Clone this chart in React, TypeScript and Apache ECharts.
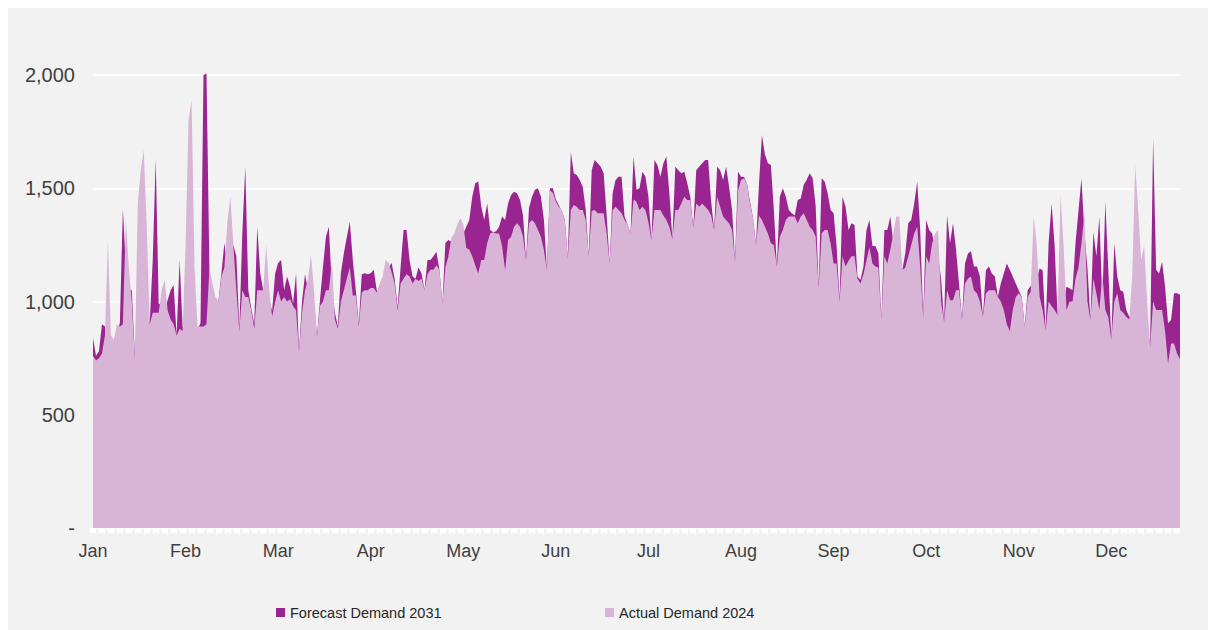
import { useEffect, useRef } from "react";
import * as echarts from "echarts";

const monthNames = ["Jan", "Feb", "Mar", "Apr", "May", "Jun", "Jul", "Aug", "Sep", "Oct", "Nov", "Dec"];
const daysPerMonth = [31, 29, 31, 30, 31, 30, 31, 31, 30, 31, 30, 31];

const forecast2031 = [
  840, 760, 780, 900, 890, 820, 830, 830, 860, 905,
  1410, 1150, 1050, 1050, 760, 1000, 1100, 1150, 1000, 910,
  1180, 1629, 990, 985, 950, 1007, 1050, 1073, 850, 1183,
  890, 860, 900, 950, 920, 880, 904, 2000, 2007, 1130,
  1000, 980, 1000, 1125, 1258, 1150, 1200, 1250, 1200, 880,
  1300, 1595, 1050, 970, 900, 1330, 1125, 1050, 1050, 1000,
  960, 1125, 1170, 1183, 1050, 1110, 1065, 990, 1125, 780,
  1000, 1120, 1050, 1100, 1000, 845, 1005, 1150, 1285, 1330,
  1050, 950, 890, 1125, 1213, 1285, 1352, 1183, 1050, 900,
  1120, 1125, 1120, 1125, 1140, 1050, 1040, 1090, 1150, 1150,
  1170, 1100, 975, 1150, 1316, 1316, 1183, 1110, 1100, 1150,
  1125, 1050, 1183, 1183, 1200, 1220, 1140, 990, 1258, 1271,
  1264, 1260, 1280, 1300, 1300, 1330, 1360, 1463, 1522, 1530,
  1420, 1360, 1433, 1316, 1306, 1310, 1330, 1375, 1360, 1433,
  1470, 1485, 1478, 1448, 1380, 1183, 1413, 1463, 1493, 1500,
  1463, 1360, 1138, 1500, 1500, 1450, 1425, 1400, 1360, 1190,
  1660, 1566, 1558, 1536, 1507, 1404, 1200, 1580, 1625, 1610,
  1595, 1566, 1380, 1168, 1478, 1536, 1551, 1551, 1375, 1340,
  1300, 1640, 1493, 1500, 1573, 1551, 1463, 1270, 1625, 1603,
  1551, 1610, 1640, 1478, 1275, 1595, 1580, 1566, 1573, 1522,
  1463, 1324, 1580, 1595, 1610, 1625, 1625, 1440, 1316, 1595,
  1580, 1536, 1595, 1507, 1404, 1176, 1573, 1551, 1550, 1522,
  1440, 1370, 1250, 1515, 1735, 1650, 1610, 1603, 1404, 1154,
  1463, 1500, 1463, 1404, 1390, 1380, 1448, 1455, 1515, 1537,
  1566, 1544, 1420, 1065, 1544, 1530, 1478, 1404, 1390, 1245,
  1010, 1463, 1418, 1316, 1345, 1338, 1110, 1095, 1154, 1316,
  1360, 1245, 1245, 1212, 918, 1316, 1316, 1375, 1257, 1200,
  1150, 1138, 1212, 1345, 1360, 1433, 1530, 1316, 933, 1360,
  1316, 1300, 1230, 1200, 1100, 910, 1380, 1257, 1345, 1227,
  1080, 918, 1168, 1212, 1222, 1154, 1154, 1110, 933, 1138,
  1154, 1124, 1110, 1020, 1080, 1124, 1168, 1140, 1110, 1080,
  1050, 1020, 889, 1050, 1070, 1050, 1100, 1146, 1138, 874,
  1257, 1433, 1250, 940, 1150, 1000, 1065, 1058, 1050, 1257,
  1400, 1544, 1300, 1150, 918, 1306, 1200, 1375, 1000, 1440,
  1138, 830, 1257, 1110, 1050, 1043, 962, 933, 950, 1050,
  1100, 1000, 1050, 900, 810, 1720, 1140, 1124, 1176, 1065,
  904, 918, 1036, 1036, 1030,
];

const actual2024 = [
  760, 740, 750, 770, 850, 1270, 850, 830, 900, 890,
  900, 1360, 1150, 1000, 750, 1436, 1580, 1669, 1330, 900,
  950, 950, 950, 1050, 1095, 960, 920, 900, 850, 880,
  870, 1250, 1800, 1890, 1150, 890, 890, 890, 900, 1150,
  1080, 1020, 1000, 1110, 1150, 1350, 1463, 1250, 1050, 870,
  1050, 1020, 1020, 960, 880, 1050, 1050, 1050, 1250, 1050,
  935, 1000, 1050, 1000, 1020, 1000, 1010, 980, 960, 780,
  950, 1050, 1100, 1205, 1050, 845, 980, 1000, 1050, 1050,
  1180, 920, 880, 1000, 1050, 1100, 1150, 1027, 1027, 890,
  1040, 1050, 1050, 1060, 1060, 1040, 1080, 1110, 1183, 1170,
  1130, 1080, 962, 1080, 1100, 1120, 1110, 1080, 1100, 1090,
  1100, 1050, 1120, 1140, 1140, 1160, 1140, 990, 1150, 1200,
  1280, 1300, 1340, 1368, 1340, 1236, 1230, 1200, 1160, 1124,
  1183, 1183, 1257, 1300, 1306, 1300, 1300, 1243, 1138, 1272,
  1286, 1330, 1345, 1330, 1286, 1183, 1345, 1360, 1345, 1316,
  1285, 1227, 1138, 1490, 1480, 1440, 1418, 1404, 1360, 1190,
  1404, 1426, 1418, 1404, 1404, 1360, 1200, 1400, 1404, 1390,
  1390, 1390, 1300, 1168, 1404, 1418, 1404, 1390, 1360, 1340,
  1300, 1450, 1440, 1404, 1418, 1404, 1350, 1270, 1404, 1404,
  1404, 1380, 1360, 1330, 1275, 1404, 1404, 1433, 1463, 1448,
  1448, 1324, 1433, 1418, 1433, 1418, 1404, 1380, 1316, 1463,
  1418, 1375, 1360, 1345, 1316, 1176, 1490, 1536, 1544, 1522,
  1433, 1370, 1250, 1380, 1360, 1330, 1300, 1257, 1250, 1154,
  1286, 1316, 1360, 1375, 1375, 1375, 1345, 1375, 1390, 1360,
  1330, 1316, 1286, 1060, 1300, 1316, 1316, 1257, 1168, 1168,
  1000, 1200, 1154, 1180, 1200, 1200, 1100, 1080, 1120, 1180,
  1240, 1168, 1154, 1150, 918, 1200, 1168, 1230, 1300, 1375,
  1375, 1138, 1150, 1200, 1250, 1300, 1330, 1154, 933, 1200,
  1168, 1257, 1300, 1316, 1000, 910, 1050, 1006, 1006, 1050,
  1050, 918, 1080, 1100, 1110, 1050, 1036, 1000, 933, 1036,
  1050, 1050, 1050, 1020, 1000, 962, 900, 870, 962, 1020,
  1036, 1020, 889, 1020, 1043, 1375, 1257, 1020, 962, 874,
  1000, 980, 962, 940, 1470, 1250, 962, 1000, 1000, 1100,
  1150, 1257, 1390, 1000, 918, 1100, 1036, 962, 1120, 962,
  930, 830, 1000, 1036, 962, 950, 933, 920, 1110, 1603,
  1404, 1183, 1245, 1000, 800, 1000, 962, 962, 962, 870,
  726, 815, 815, 770, 745,
];

const yTickValues = [0, 500, 1000, 1500, 2000];

const categories: string[] = [];
monthNames.forEach((m, mi) => {
  for (let d = 1; d <= daysPerMonth[mi]; d++) categories.push(m + " " + d);
});
const xCategories = categories.slice(0, forecast2031.length);

const DARK = "#9A2490";
const LIGHT = "#D8B4D6";
const BG = "#F2F2F2";
const TEXT = "#404040";

export default function App() {
  const ref = useRef<HTMLDivElement>(null);
  useEffect(() => {
    if (!ref.current) return;
    const chart = echarts.init(ref.current, undefined, { renderer: "svg" });
    const axisFont = "'Liberation Sans', Arial, sans-serif";
    const legendCommon = {
      icon: "rect",
      itemWidth: 9,
      itemHeight: 9,
      top: 592,
      textStyle: { color: "#262626", fontSize: 14.5, fontFamily: axisFont },
      selectedMode: false,
    };
    chart.setOption({
      animation: false,
      backgroundColor: BG,
      grid: { left: 85, right: 28, top: 67, bottom: 102, containLabel: false },
      legend: [
        { ...legendCommon, data: ["Forecast Demand 2031"], left: 263 },
        { ...legendCommon, data: ["Actual Demand 2024"], left: 592 },
      ],
      xAxis: {
        type: "category",
        data: xCategories,
        boundaryGap: false,
        axisLine: { show: true, lineStyle: { color: "#FFFFFF", width: 1 } },
        axisTick: { show: true, interval: 2, length: 5, lineStyle: { color: "#FFFFFF", width: 6 } },
        axisLabel: {
          interval: 30,
          margin: 14,
          color: TEXT,
          fontSize: 18,
          fontFamily: axisFont,
          formatter: (v: string) => v.split(" ")[0],
        },
        splitLine: { show: false },
      },
      yAxis: {
        type: "value",
        min: yTickValues[0],
        max: yTickValues[yTickValues.length - 1],
        interval: 500,
        axisLine: { show: false },
        axisTick: { show: false },
        axisLabel: {
          margin: 18,
          color: TEXT,
          fontSize: 20,
          fontFamily: axisFont,
          formatter: (v: number) => (v === 0 ? "-" : v.toLocaleString("en-US")),
        },
        splitLine: { show: true, lineStyle: { color: "#FFFFFF", width: 1.5 } },
      },
      series: [
        {
          name: "Forecast Demand 2031",
          type: "line",
          data: forecast2031,
          symbol: "none",
          clip: false,
          silent: true,
          itemStyle: { color: DARK },
          lineStyle: { width: 0, color: DARK },
          areaStyle: { color: DARK, opacity: 1 },
        },
        {
          name: "Actual Demand 2024",
          type: "line",
          data: actual2024,
          symbol: "none",
          clip: false,
          silent: true,
          itemStyle: { color: LIGHT },
          lineStyle: { width: 0, color: LIGHT },
          areaStyle: { color: LIGHT, opacity: 1 },
        },
      ],
    });
    return () => chart.dispose();
  }, []);
  return (
    <div style={{ position: "fixed", left: 0, top: 0, width: 1208, height: 630, background: "#FFFFFF" }}>
      <div ref={ref} style={{ position: "absolute", left: 8, top: 8, width: 1200, height: 622 }} />
    </div>
  );
}
